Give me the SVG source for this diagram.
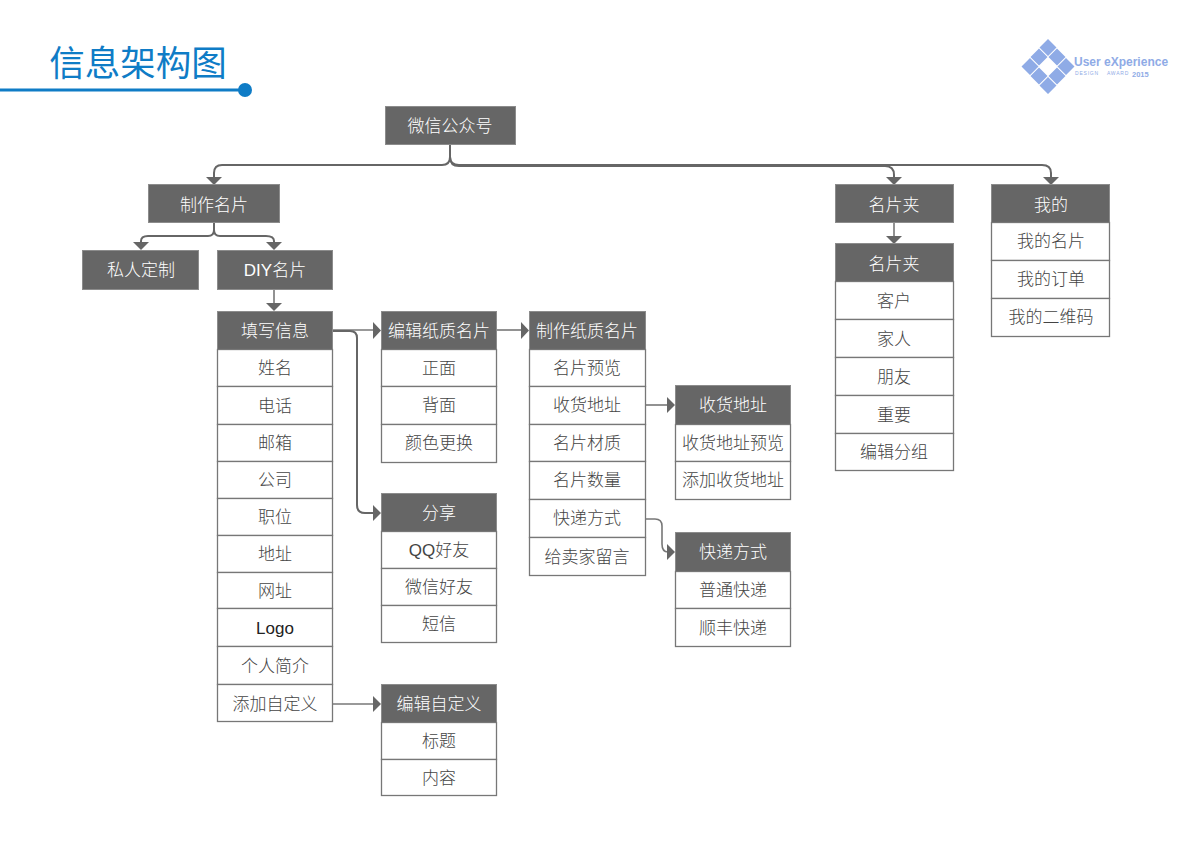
<svg xmlns="http://www.w3.org/2000/svg" width="1191" height="842" viewBox="0 0 1191 842">
<style>
text{font-family:"Noto Sans CJK SC","Liberation Sans",sans-serif;text-anchor:middle}
.h{fill:#666;stroke:#8c8c8c;stroke-width:1}
.r{fill:#fff;stroke:#777;stroke-width:1.3}
.ht{fill:#fff;font-size:17px;font-weight:300}
.rt{fill:#444;font-size:17px;font-weight:300}
.lat{font-family:"Liberation Sans",sans-serif}
.c{fill:none;stroke:#666;stroke-width:2}
.s{fill:none;stroke:#777;stroke-width:1.600}
.a{fill:#666}
.d{fill:#8fabe6}
.lg{fill:#8fabe6;text-anchor:start;font-family:"Liberation Sans",sans-serif}
</style>
<rect width="1191" height="842" fill="#fff"/>
<g id="header">
<text x="138" y="76" style="font-size:35.5px;fill:#0f7cc6;font-weight:400">信息架构图</text>
<path d="M0 90H240" stroke="#0f7cc6" stroke-width="3" fill="none"/>
<circle cx="245" cy="90" r="7" fill="#0f7cc6"/>
</g>
<g id="logo">
<path class="d" d="M1048 39l8.500 8.500-8.500 8.500-8.500-8.500zM1039 48.500l8.500 8.500-8.500 8.500-8.500-8.500zM1057 48.500l8.500 8.500-8.500 8.500-8.500-8.500zM1030 58l8.500 8.500-8.500 8.500-8.500-8.500zM1066 58l8.500 8.500-8.500 8.500-8.500-8.500zM1039 67.500l8.500 8.500-8.500 8.500-8.500-8.500zM1057 67.500l8.500 8.500-8.500 8.500-8.500-8.500zM1048 77l8.500 8.500-8.500 8.500-8.500-8.500z"/>
<text class="lg" x="1074" y="66" style="font-size:12px;font-weight:700">User eXperience</text>
<text class="lg" x="1075" y="75" style="font-size:5px;letter-spacing:.8px;word-spacing:6px">DESIGN AWARD</text>
<text class="lg" x="1132" y="76.500" style="font-size:7.500px;font-weight:700">2015</text>
</g>
<g id="connectors">
<path class="c" d="M450 145V157Q450 165 442 165H222Q214 165 214 173V178"/>
<path class="c" d="M450 145V157Q450 165 459 165H1042Q1051 165 1051 173V178"/>
<path class="c" d="M450 157Q450 166 459 166H885Q894 166 894 175V178"/>
<path class="c" d="M214 223V230Q214 236 208 236H148Q141 236 141 241V244"/>
<path class="c" d="M214 223V230Q214 236 220 236H266Q274 236 274 241V244"/>
<path class="s" d="M274 290V306"/>
<path class="s" d="M894 223V237"/>
<path class="s" d="M333 330H374"/>
<path class="c" d="M333 331H350Q357 331 357 338V505Q357 513 365 513H374"/>
<path class="s" d="M497 330H522"/>
<path class="s" d="M646 405H668"/>
<path class="s" d="M646 519H655Q662 519 662 526V544Q662 552 668 552"/>
<path class="s" d="M333 704H374"/>
<path class="a" d="M206 177H222L214 185ZM133 242H149L141 250ZM266 242H282L274 250ZM266 303H282L274 311ZM886 177H902L894 185ZM1043 177H1059L1051 185ZM886 236H902L894 244ZM373 322V339L381 330.500ZM373 505V521L381 513ZM521 322V339L529 330.500ZM667 397V413L675 405ZM667 544V560L675 552ZM373 696V712L381 704Z"/>
</g>
<g id="n-wechat"><rect class="h" x="385.500" y="106.500" width="130" height="38"/><text class="ht" x="450" y="132">微信公众号</text></g>
<g id="n-make"><rect class="h" x="148.500" y="184.500" width="131" height="38"/><text class="ht" x="214" y="211">制作名片</text></g>
<g id="n-private"><rect class="h" x="82.500" y="250.500" width="116" height="39"/><text class="ht" x="141" y="276">私人定制</text></g>
<g id="n-diy"><rect class="h" x="217.500" y="250.500" width="115" height="39"/><text class="ht" x="275" y="276"><tspan class="lat">DIY</tspan>名片</text></g>
<g id="n-folder"><rect class="h" x="835.500" y="184.500" width="118" height="38"/><text class="ht" x="894" y="211">名片夹</text></g>
<g id="n-info">
<rect class="h" x="217.500" y="311.500" width="115" height="38"/><text class="ht" x="275" y="337">填写信息</text>
<rect class="r" x="217.500" y="349.500" width="115" height="37"/><text class="rt" x="275" y="374">姓名</text>
<rect class="r" x="217.500" y="386.500" width="115" height="38"/><text class="rt" x="275" y="412">电话</text>
<rect class="r" x="217.500" y="424.500" width="115" height="37"/><text class="rt" x="275" y="449">邮箱</text>
<rect class="r" x="217.500" y="461.500" width="115" height="37"/><text class="rt" x="275" y="486">公司</text>
<rect class="r" x="217.500" y="498.500" width="115" height="37"/><text class="rt" x="275" y="523">职位</text>
<rect class="r" x="217.500" y="535.500" width="115" height="37"/><text class="rt" x="275" y="560">地址</text>
<rect class="r" x="217.500" y="572.500" width="115" height="36"/><text class="rt" x="275" y="597">网址</text>
<rect class="r" x="217.500" y="608.500" width="115" height="38"/><text class="rt lat" x="275" y="634" style="fill:#222">Logo</text>
<rect class="r" x="217.500" y="646.500" width="115" height="38"/><text class="rt" x="275" y="672">个人简介</text>
<rect class="r" x="217.500" y="684.500" width="115" height="37"/><text class="rt" x="275" y="710">添加自定义</text>
</g>
<g id="n-edit">
<rect class="h" x="381.500" y="311.500" width="115" height="38"/><text class="ht" x="439" y="337">编辑纸质名片</text>
<rect class="r" x="381.500" y="349.500" width="115" height="37"/><text class="rt" x="439" y="374">正面</text>
<rect class="r" x="381.500" y="386.500" width="115" height="38"/><text class="rt" x="439" y="411">背面</text>
<rect class="r" x="381.500" y="424.500" width="115" height="38"/><text class="rt" x="439" y="449">颜色更换</text>
</g>
<g id="n-paper">
<rect class="h" x="529.500" y="311.500" width="116" height="38"/><text class="ht" x="587" y="337">制作纸质名片</text>
<rect class="r" x="529.500" y="349.500" width="116" height="37"/><text class="rt" x="587" y="374">名片预览</text>
<rect class="r" x="529.500" y="386.500" width="116" height="38"/><text class="rt" x="587" y="411">收货地址</text>
<rect class="r" x="529.500" y="424.500" width="116" height="37"/><text class="rt" x="587" y="449">名片材质</text>
<rect class="r" x="529.500" y="461.500" width="116" height="38"/><text class="rt" x="587" y="486">名片数量</text>
<rect class="r" x="529.500" y="499.500" width="116" height="38"/><text class="rt" x="587" y="524">快递方式</text>
<rect class="r" x="529.500" y="537.500" width="116" height="38"/><text class="rt" x="587" y="563">给卖家留言</text>
</g>
<g id="n-address">
<rect class="h" x="675.500" y="385.500" width="115" height="39"/><text class="ht" x="733" y="411">收货地址</text>
<rect class="r" x="675.500" y="424.500" width="115" height="37"/><text class="rt" x="733" y="449">收货地址预览</text>
<rect class="r" x="675.500" y="461.500" width="115" height="38"/><text class="rt" x="733" y="486">添加收货地址</text>
</g>
<g id="n-express">
<rect class="h" x="675.500" y="532.500" width="115" height="39"/><text class="ht" x="733" y="558">快递方式</text>
<rect class="r" x="675.500" y="571.500" width="115" height="37"/><text class="rt" x="733" y="596">普通快递</text>
<rect class="r" x="675.500" y="608.500" width="115" height="38"/><text class="rt" x="733" y="634">顺丰快递</text>
</g>
<g id="n-share">
<rect class="h" x="381.500" y="493.500" width="115" height="38"/><text class="ht" x="439" y="519">分享</text>
<rect class="r" x="381.500" y="531.500" width="115" height="37"/><text class="rt" x="439" y="556"><tspan class="lat">QQ</tspan>好友</text>
<rect class="r" x="381.500" y="568.500" width="115" height="37"/><text class="rt" x="439" y="593">微信好友</text>
<rect class="r" x="381.500" y="605.500" width="115" height="37"/><text class="rt" x="439" y="630">短信</text>
</g>
<g id="n-custom">
<rect class="h" x="381.500" y="684.500" width="115" height="38"/><text class="ht" x="439" y="710">编辑自定义</text>
<rect class="r" x="381.500" y="722.500" width="115" height="37"/><text class="rt" x="439" y="747">标题</text>
<rect class="r" x="381.500" y="759.500" width="115" height="36"/><text class="rt" x="439" y="784">内容</text>
</g>
<g id="n-cards">
<rect class="h" x="835.500" y="243.500" width="118" height="38"/><text class="ht" x="894" y="270">名片夹</text>
<rect class="r" x="835.500" y="281.500" width="118" height="38"/><text class="rt" x="894" y="307">客户</text>
<rect class="r" x="835.500" y="319.500" width="118" height="38"/><text class="rt" x="894" y="345">家人</text>
<rect class="r" x="835.500" y="357.500" width="118" height="38"/><text class="rt" x="894" y="383">朋友</text>
<rect class="r" x="835.500" y="395.500" width="118" height="38"/><text class="rt" x="894" y="421">重要</text>
<rect class="r" x="835.500" y="433.500" width="118" height="37"/><text class="rt" x="894" y="458">编辑分组</text>
</g>
<g id="n-mine">
<rect class="h" x="991.500" y="184.500" width="118" height="38"/><text class="ht" x="1051" y="211">我的</text>
<rect class="r" x="991.500" y="222.500" width="118" height="38"/><text class="rt" x="1051" y="247">我的名片</text>
<rect class="r" x="991.500" y="260.500" width="118" height="38"/><text class="rt" x="1051" y="285">我的订单</text>
<rect class="r" x="991.500" y="298.500" width="118" height="38"/><text class="rt" x="1051" y="323">我的二维码</text>
</g>
</svg>
